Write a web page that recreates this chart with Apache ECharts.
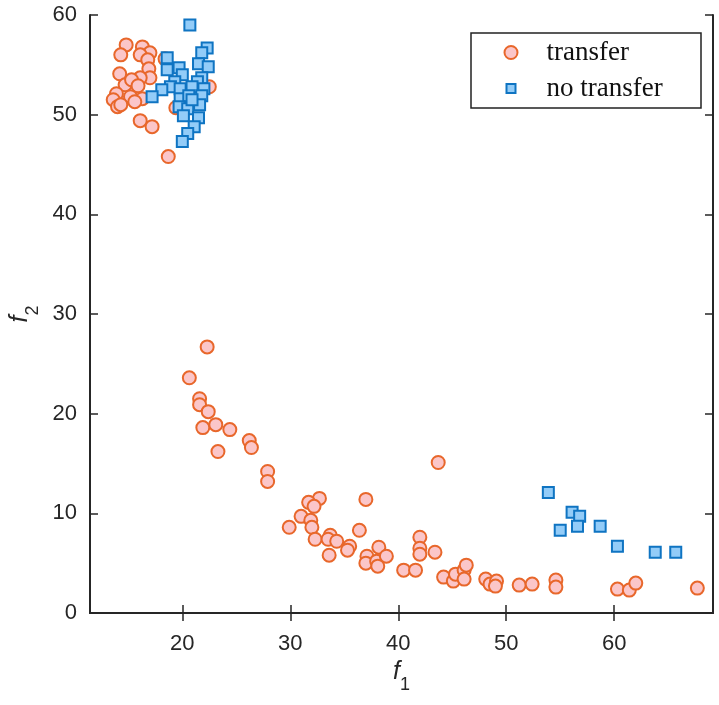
<!DOCTYPE html>
<html lang="en">
<head>
    <meta charset="UTF-8">
    <title>transfer vs no transfer</title>
    <script src="https://cdn.jsdelivr.net/npm/echarts@6/dist/echarts.min.js"></script>
    <style>
        html, body{
            margin: 0;
            padding: 0;
            background: #fff;
        }
        #chart{
            width: 719px;
            height: 705px;
        }
    </style>
</head>
<body>
    <div id="chart"></div>
    <script>
        // transfer points (f1, f2)
        const transferX = [
            14.8, 14.3, 16.3, 17.0, 16.1, 16.8, 18.4, 16.9, 14.2, 17.0, 16.1, 14.7, 15.3, 15.9,
            13.9, 13.6, 15.2, 16.3, 15.6, 14.0, 14.3, 22.5, 19.4, 16.1, 17.2, 18.7,
            20.65, 22.3, 21.6, 21.6, 21.9, 22.4, 23.1, 24.4, 23.3, 26.2, 26.4, 27.9, 27.9,
            43.7, 32.7, 31.7, 32.2, 37.0, 31.0, 29.9, 31.9, 32.0, 32.3, 33.7, 33.5, 34.3, 33.6,
            35.5, 35.3, 36.4, 37.1, 37.0, 38.2, 38.0, 38.1, 38.9, 40.5, 41.6, 42.0, 42.0, 42.0,
            43.4, 44.2, 45.1, 45.3, 46.1, 46.1, 46.3, 48.1, 48.5, 49.1, 49.0, 51.2, 52.4,
            54.6, 54.6, 60.3, 61.4, 62.0, 67.7
        ]
        const transferY = [
            57.0, 56.0, 56.8, 56.2, 56.0, 55.5, 55.6, 54.6, 54.1, 53.7, 53.7, 53.0, 53.5, 52.9,
            52.1, 51.5, 51.8, 51.6, 51.3, 50.8, 51.0, 52.8, 50.7, 49.4, 48.8, 45.8,
            23.6, 26.7, 21.5, 20.9, 18.6, 20.2, 18.9, 18.4, 16.2, 17.3, 16.6, 14.2, 13.2,
            15.1, 11.5, 11.1, 10.7, 11.4, 9.7, 8.6, 9.3, 8.6, 7.4, 7.8, 7.4, 7.2, 5.8,
            6.7, 6.3, 8.3, 5.7, 5.0, 6.6, 5.2, 4.7, 5.7, 4.3, 4.3, 7.6, 6.5, 5.9,
            6.1, 3.6, 3.2, 3.9, 4.3, 3.4, 4.8, 3.4, 2.9, 3.2, 2.7, 2.8, 2.9,
            3.3, 2.6, 2.4, 2.3, 3.0, 2.5
        ]

        // no transfer points (f1, f2)
        const noTransferX = [
            20.7, 22.3, 21.8, 18.6, 18.6, 19.7, 21.5, 22.4, 20.0, 21.8, 19.3, 21.4, 18.9, 19.8,
            20.9, 22.0, 18.1, 17.2, 19.8, 20.6, 21.8, 19.7, 20.5, 21.6, 20.1, 21.5, 21.1, 20.5,
            20.0, 20.9,
            53.9, 56.1, 56.8, 55.0, 56.6, 58.7, 60.3, 63.8, 65.7
        ]
        const noTransferY = [
            59.0, 56.7, 56.2, 55.7, 54.5, 54.7, 55.1, 54.8, 54.0, 53.7, 53.3, 53.3, 52.8, 52.6,
            52.8, 52.6, 52.5, 51.8, 51.6, 51.9, 51.9, 50.8, 50.6, 51.0, 49.9, 49.7, 48.8, 48.1,
            47.3, 51.5,
            12.1, 10.1, 9.7, 8.3, 8.7, 8.7, 6.7, 6.1, 6.1
        ]

        // 坐标轴刻度
        const xTicks = [20, 30, 40, 50, 60]
        const xRange = [11.45, 69.15]
        const yRange = [0, 60]

        const axisColor = '#262626'
        const sansFont = 'Liberation Sans'
        const serifFont = 'Liberation Serif'

        const nameRich = {
            f: { fontSize: 25, fontStyle: 'italic', fontFamily: sansFont, color: axisColor },
            s: { fontSize: 18, fontFamily: sansFont, color: axisColor, padding: [26, 0, 0, 0] }
        }

        function pairs(xs, ys) {
            return xs.map((x, i) => [x, ys[i]])
        }

        // 图例文字，左边留白把文字推到同一列
        function legendText(padLeft) {
            return {
                fontFamily: serifFont,
                fontSize: 27,
                color: '#111',
                padding: [0, 0, 0, padLeft]
            }
        }

        const myChart = echarts.init(document.getElementById('chart'))
        const option = {
            animation: false,
            backgroundColor: '#fff',
            grid: {
                left: 90,
                right: 6,
                top: 15,
                bottom: 92,
                outerBoundsMode: 'none'
            },
            // 图例外框
            graphic: [{
                type: 'rect',
                shape: { x: 471, y: 33, width: 230, height: 75 },
                style: { fill: 'none', stroke: '#222', lineWidth: 1.5 },
                z: 100
            }],
            legend: [
                {
                    left: 503.5,
                    top: 39,
                    itemWidth: 13,
                    itemHeight: 13,
                    padding: 0,
                    textStyle: legendText(24),
                    data: ['transfer']
                },
                {
                    left: 505.5,
                    top: 75,
                    itemWidth: 9,
                    itemHeight: 9,
                    padding: 0,
                    textStyle: legendText(26),
                    data: ['no transfer']
                }
            ],
            xAxis: [
                {
                    type: 'value',
                    min: xRange[0],
                    max: xRange[1],
                    position: 'bottom',
                    name: '{f|f}{s|1}',
                    nameLocation: 'middle',
                    nameGap: 30,
                    nameTextStyle: { rich: nameRich },
                    axisLine: { lineStyle: { color: axisColor, width: 2 } },
                    axisTick: { inside: true, length: 8, customValues: xTicks, lineStyle: { color: axisColor, width: 1.5 } },
                    axisLabel: { customValues: xTicks, margin: 20, fontSize: 22, fontFamily: sansFont, color: axisColor },
                    splitLine: { show: false }
                },
                {
                    type: 'value',
                    min: xRange[0],
                    max: xRange[1],
                    position: 'top',
                    axisLine: { lineStyle: { color: axisColor, width: 2 } },
                    axisTick: { inside: true, length: 8, customValues: xTicks, lineStyle: { color: axisColor, width: 1.5 } },
                    axisLabel: { show: false },
                    splitLine: { show: false }
                }
            ],
            yAxis: [
                {
                    type: 'value',
                    min: yRange[0],
                    max: yRange[1],
                    interval: 10,
                    position: 'left',
                    name: '{f|f}{s|2}',
                    nameLocation: 'middle',
                    nameGap: 40,
                    nameTextStyle: { rich: nameRich },
                    axisLine: { show: true, lineStyle: { color: axisColor, width: 2 } },
                    axisTick: { show: true, inside: true, length: 8, lineStyle: { color: axisColor, width: 1.5 } },
                    axisLabel: { margin: 13, fontSize: 22, fontFamily: sansFont, color: axisColor },
                    splitLine: { show: false }
                },
                {
                    type: 'value',
                    min: yRange[0],
                    max: yRange[1],
                    interval: 10,
                    position: 'right',
                    axisLine: { show: true, lineStyle: { color: axisColor, width: 2 } },
                    axisTick: { show: true, inside: true, length: 8, lineStyle: { color: axisColor, width: 1.5 } },
                    axisLabel: { show: false },
                    splitLine: { show: false }
                }
            ],
            series: [
                {
                    name: 'transfer',
                    type: 'scatter',
                    symbol: 'circle',
                    symbolSize: 13,
                    data: pairs(transferX, transferY),
                    itemStyle: {
                        color: '#fbc6c9',
                        borderColor: '#e8672b',
                        borderWidth: 2,
                        opacity: 1
                    }
                },
                {
                    name: 'no transfer',
                    type: 'scatter',
                    symbol: 'rect',
                    symbolSize: 11,
                    data: pairs(noTransferX, noTransferY),
                    itemStyle: {
                        color: '#93ccf8',
                        borderColor: '#0f74c2',
                        borderWidth: 2,
                        opacity: 1
                    }
                }
            ]
        }
        myChart.setOption(option)
    </script>
</body>
</html>
